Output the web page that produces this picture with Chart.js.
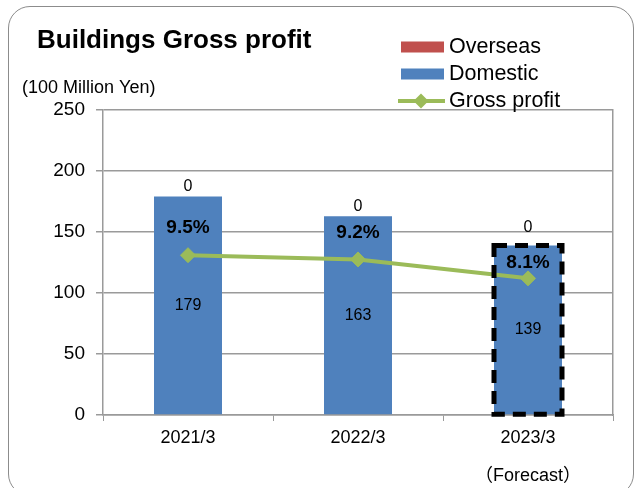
<!DOCTYPE html>
<html>
 <head>
  <title>Buildings Gross profit</title>
  <style>
  body {
   margin: 0;
   background: #fff;
  }
  #wrap {
   position: relative;
   width: 635px;
   height: 488px;
   overflow: hidden;
  }
  #frame {
   position: absolute;
   left: 8px;
   top: 6px;
   width: 624px;
   height: 488px;
   border: 1.5px solid #8c8c8c;
   border-radius: 22px;
  }
  canvas {
   position: absolute;
   left: 0;
   top: 0;
  }
  </style>
 </head>
 <body>
 <div id="wrap">
  <div id="frame"></div>
  <canvas id="chart" width="635" height="488"></canvas>
 </div>
 <script src="https://cdn.jsdelivr.net/npm/chart.js@4"></script>
 <script type="text/javascript">
 // Gross profit of the buildings business (100 million yen)
 const categories = ['2021/3', '2022/3', '2023/3'];
 const domestic = [179, 163, 139];
 const overseas = [0, 0, 0];
 const grossProfit = [131, 127.5, 112];
 const marginLabels = ['9.5%', '9.2%', '8.1%'];
 const forecastIndex = 2;

 const FONT = '"Liberation Sans", Arial, "Noto Sans CJK JP", sans-serif';
 const GRID = '#9a9a9a';

 // text, legend, value labels and the dashed forecast box
 const decorations = {
  id: 'decorations',
  afterDatasetsDraw(chart) {
   const ctx = chart.ctx;
   const domMeta = chart.getDatasetMeta(1);
   const ovsMeta = chart.getDatasetMeta(2);
   const gpMeta = chart.getDatasetMeta(0);
   ctx.save();

   // dashed outline round the forecast bar
   const fb = domMeta.data[forecastIndex];
   ctx.strokeStyle = '#000';
   ctx.lineWidth = 5;
   ctx.setLineDash([13, 8]);
   ctx.strokeRect(fb.x - fb.width / 2, fb.y, fb.width, fb.base - fb.y);
   ctx.setLineDash([]);

   ctx.fillStyle = '#000';
   ctx.textAlign = 'center';
   ctx.textBaseline = 'middle';

   // domestic values in the middle of each bar
   ctx.font = '16px ' + FONT;
   domMeta.data.forEach((el, i) => {
    ctx.fillText(String(domestic[i]), el.x, (el.y + el.base) / 2);
   });
   // overseas values above the stack (clear of the forecast outline)
   ovsMeta.data.forEach((el, i) => {
    const gap = i === forecastIndex ? 18 : 10;
    ctx.fillText(String(overseas[i]), el.x, el.y - gap);
   });
   // margin labels above the gross profit points
   ctx.font = 'bold 19px ' + FONT;
   gpMeta.data.forEach((pt, i) => {
    const barTop = domMeta.data[i].y;
    const y = Math.max(pt.y - 27, barTop + 17);
    ctx.fillText(marginLabels[i], pt.x, y);
   });

   ctx.restore();
  },
  afterDraw(chart) {
   const ctx = chart.ctx;
   ctx.save();
   ctx.fillStyle = '#000';
   ctx.textBaseline = 'alphabetic';
   ctx.textAlign = 'left';
   ctx.font = 'bold 26px ' + FONT;
   ctx.fillText('Buildings Gross profit', 37, 48);

   ctx.textBaseline = 'middle';
   ctx.font = '18px ' + FONT;
   ctx.fillText('(100 Million Yen)', 22, 88);

   ctx.textAlign = 'center';
   const xs = chart.scales.x;
   ctx.fillText('（Forecast）', xs.getPixelForValue(forecastIndex), 476);

   // legend
   const order = ['Overseas', 'Domestic', 'Gross profit'];
   ctx.textAlign = 'left';
   ctx.font = '21.5px ' + FONT;
   order.forEach((name, i) => {
    const ds = chart.data.datasets.find(d => d.label === name);
    const cy = 47 + i * 27;
    if (ds.type === 'line') {
     ctx.strokeStyle = ds.borderColor;
     ctx.lineWidth = 4;
     ctx.beginPath();
     ctx.moveTo(398, cy);
     ctx.lineTo(445, cy);
     ctx.stroke();
     ctx.fillStyle = ds.backgroundColor;
     ctx.beginPath();
     ctx.moveTo(421, cy - 7.5);
     ctx.lineTo(428.5, cy);
     ctx.lineTo(421, cy + 7.5);
     ctx.lineTo(413.5, cy);
     ctx.closePath();
     ctx.fill();
    } else {
     ctx.fillStyle = ds.backgroundColor;
     ctx.fillRect(401, cy - 5.5, 43, 11);
    }
    ctx.fillStyle = '#000';
    ctx.fillText(name, 449, cy);
   });
   ctx.restore();
  }
 };

 new Chart(document.getElementById('chart'), {
  type: 'bar',
  data: {
   labels: categories,
   datasets: [{
    type: 'line',
    label: 'Gross profit',
    data: grossProfit,
    borderColor: '#9BBB59',
    backgroundColor: '#9BBB59',
    borderWidth: 4,
    pointStyle: 'rectRot',
    pointRadius: 7.5,
    pointBorderWidth: 1,
    order: 0
   }, {
    label: 'Domestic',
    data: domestic,
    backgroundColor: '#4F81BD',
    stack: 'total',
    order: 1
   }, {
    label: 'Overseas',
    data: overseas,
    backgroundColor: '#C0504D',
    stack: 'total',
    order: 1
   }]
  },
  options: {
   responsive: false,
   animation: false,
   categoryPercentage: 1,
   barPercentage: 0.4,
   layout: {
    padding: { top: 110, right: 22, left: 0, bottom: 0 }
   },
   plugins: {
    legend: { display: false },
    tooltip: { enabled: false }
   },
   scales: {
    x: {
     stacked: true,
     afterFit: s => { s.height = 73; },
     grid: {
      offset: true,
      drawOnChartArea: false,
      color: GRID,
      tickLength: 6
     },
     border: { color: GRID, width: 1.5 },
     ticks: {
      color: '#000',
      padding: 6,
      font: { family: FONT, size: 18 }
     }
    },
    y: {
     stacked: true,
     min: 0,
     max: 250,
     afterFit: s => { s.width = 103; },
     grid: {
      color: GRID,
      lineWidth: 1.5,
      tickLength: 7
     },
     border: { color: GRID, width: 1.5 },
     ticks: {
      stepSize: 50,
      color: '#000',
      padding: 11,
      font: { family: FONT, size: 19 }
     }
    },
    yRight: {
     position: 'right',
     min: 0,
     max: 250,
     afterFit: s => { s.width = 0; },
     grid: { display: false },
     ticks: { display: false },
     border: { color: GRID, width: 1.5 }
    }
   }
  },
  plugins: [decorations]
 });
 </script>
 </body>
</html>
